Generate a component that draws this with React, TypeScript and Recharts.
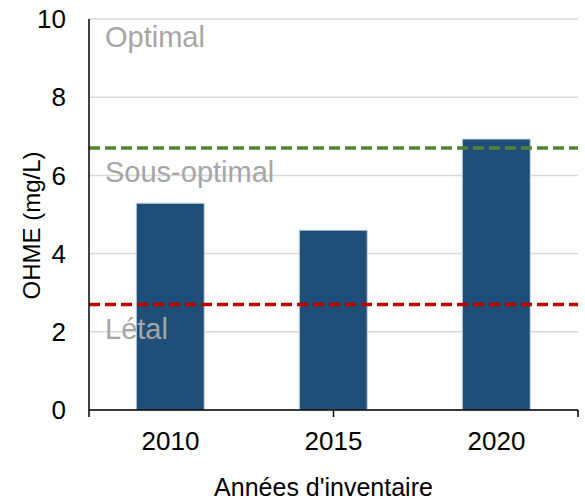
import { BarChart, Bar, XAxis, YAxis, CartesianGrid, ReferenceLine } from 'recharts';

const years = ['2010', '2015', '2020'];
const ohme = [5.29, 4.6, 6.93];
const yTicks = [0, 2, 4, 6, 8, 10];
const edgeTicks = [0, 1, 2, 3];

const thresholds = [
  { y: 6.7, color: '#548235' },
  { y: 2.7, color: '#c00000' },
];

const zones = [
  { y: 9.54, text: 'Optimal' },
  { y: 6.09, text: 'Sous-optimal' },
  { y: 2.08, text: 'Létal' },
];

const data = years.map((year, i) => ({ year, value: ohme[i] }));

const font = "'Liberation Sans', Arial, sans-serif";

// "a" = boundary ticks + axis line, "b" = category labels (bars)
export default function App() {
  return (
    <div style={{ position: 'absolute', left: 0, top: 0, fontFamily: font }}>
      <BarChart
        width={585}
        height={501}
        data={data}
        margin={{ top: 19, right: 7, bottom: 0, left: 0 }}
        barCategoryGap="29%"
      >
        <CartesianGrid xAxisId="b" vertical={false} stroke="#d9d9d9" strokeWidth={1.5} />
        <XAxis
          xAxisId="a"
          type="number"
          domain={[0, 3]}
          ticks={edgeTicks}
          height={1}
          tickFormatter={() => ''}
          tickSize={7}
          axisLine={{ stroke: '#000', strokeWidth: 1.5 }}
          tickLine={{ stroke: '#000', strokeWidth: 1.5 }}
        />
        <XAxis
          xAxisId="b"
          dataKey="year"
          height={90}
          axisLine={false}
          tickLine={false}
          tickSize={0}
          tickMargin={21}
          tick={{ fill: '#000', fontSize: 26, fontFamily: font }}
          label={{ value: "Années d'inventaire", position: 'insideBottom', offset: 5, dx: -10, fill: '#000', fontSize: 25, fontFamily: font }}
        />
        <YAxis
          type="number"
          domain={[0, 10]}
          ticks={yTicks}
          width={89}
          tickLine={false}
          tickSize={0}
          tickMargin={23}
          axisLine={{ stroke: '#000', strokeWidth: 1.5 }}
          tick={{ fill: '#000', fontSize: 26, fontFamily: font }}
          label={{ value: 'OHME (mg/L)', angle: -90, position: 'center', dx: -13, dy: 11, fill: '#000', fontSize: 24, fontFamily: font }}
        />
        <Bar
          xAxisId="b"
          dataKey="value"
          fill="#1f4e79"
          stroke="#c9d6e3"
          strokeWidth={1}
          isAnimationActive={false}
        />
        {thresholds.map((t) => (
          <ReferenceLine
            key={t.y}
            xAxisId="b"
            y={t.y}
            stroke={t.color}
            strokeWidth={3.5}
            strokeDasharray="11 5"
          />
        ))}
        {zones.map((z) => (
          <ReferenceLine
            key={z.text}
            xAxisId="b"
            y={z.y}
            stroke="none"
            label={{ value: z.text, position: 'insideLeft', offset: 16, fill: '#a6a6a6', fontSize: 29, fontFamily: font }}
          />
        ))}
      </BarChart>
    </div>
  );
}
